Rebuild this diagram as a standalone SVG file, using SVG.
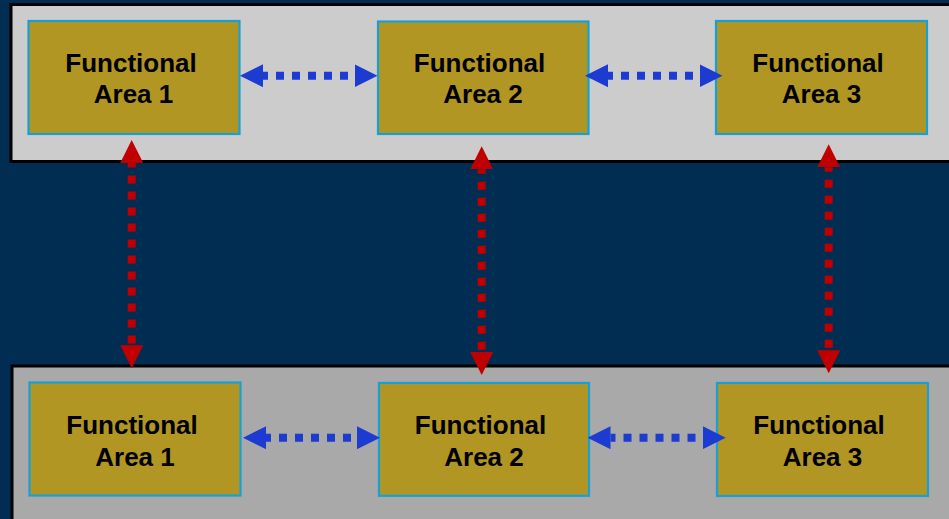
<svg xmlns="http://www.w3.org/2000/svg" width="949" height="519" viewBox="0 0 949 519">
  <style>
    .band { stroke: #000; stroke-width: 3; }
    .box { fill: #b19623; stroke: #16a0d6; stroke-width: 2.2; }
    .label { font-family: "Liberation Sans", Arial, sans-serif; font-weight: bold; font-size: 26px; fill: #000; text-anchor: middle; }
    .h-link { stroke: #1c3bd0; stroke-width: 8; stroke-dasharray: 8 8; stroke-dashoffset: 3; fill: none; marker-start: url(#headBlue); marker-end: url(#headBlue); }
    .v-link { stroke: #c00000; stroke-width: 8; stroke-dasharray: 8 8; stroke-dashoffset: 3.5; fill: none; marker-start: url(#headRed); marker-end: url(#headRed); }
  </style>
  <defs>
    <marker id="headBlue" viewBox="0 0 23 23" markerWidth="23" markerHeight="23" markerUnits="userSpaceOnUse" refX="0" refY="11.5" orient="auto-start-reverse">
      <path d="M0,0 L23,11.5 L0,23 Z" fill="#1c3bd0"/>
    </marker>
    <marker id="headRed" viewBox="0 0 23 23" markerWidth="23" markerHeight="23" markerUnits="userSpaceOnUse" refX="0" refY="11.5" orient="auto-start-reverse">
      <path d="M0,0 L23,11.5 L0,23 Z" fill="#c00000"/>
    </marker>
  </defs>

  <!-- background -->
  <rect x="0" y="0" width="949" height="519" fill="#022d53"/>

  <!-- layer bands -->
  <rect id="band-top" class="band" x="11" y="4.5" width="945" height="157" fill="#cccccc"/>
  <rect id="band-bottom" class="band" x="12" y="366" width="945" height="160" fill="#a9a9a9"/>

  <!-- upper layer -->
  <g id="top-area-1">
    <rect class="box" x="28.5" y="21" width="211" height="113"/>
    <text class="label" x="131" y="71.7">Functional</text>
    <text class="label" x="133.5" y="103.2">Area 1</text>
  </g>
  <g id="top-area-2">
    <rect class="box" x="378" y="21.5" width="210.5" height="112.5"/>
    <text class="label" x="479.5" y="71.7">Functional</text>
    <text class="label" x="483" y="103.2">Area 2</text>
  </g>
  <g id="top-area-3">
    <rect class="box" x="716" y="21" width="211" height="113"/>
    <text class="label" x="818" y="71.7">Functional</text>
    <text class="label" x="821.5" y="103.2">Area 3</text>
  </g>

  <!-- lower layer -->
  <g id="bottom-area-1">
    <rect class="box" x="29.5" y="382.5" width="211" height="113"/>
    <text class="label" x="132" y="434">Functional</text>
    <text class="label" x="135" y="465.5">Area 1</text>
  </g>
  <g id="bottom-area-2">
    <rect class="box" x="379" y="383" width="210" height="112.8"/>
    <text class="label" x="480.5" y="434">Functional</text>
    <text class="label" x="484" y="465.5">Area 2</text>
  </g>
  <g id="bottom-area-3">
    <rect class="box" x="717" y="383" width="211" height="113"/>
    <text class="label" x="819" y="434">Functional</text>
    <text class="label" x="822.5" y="465.5">Area 3</text>
  </g>

  <!-- connectors -->
  <g id="connectors">
    <line class="h-link" x1="263" y1="75.7" x2="354.5" y2="75.7"/>
    <line class="h-link" x1="608" y1="75.7" x2="699.5" y2="75.7"/>
    <line class="h-link" x1="266" y1="437.7" x2="357" y2="437.7"/>
    <line class="h-link" x1="610.5" y1="437.7" x2="702.7" y2="437.7"/>
    <line class="v-link" x1="131.7" y1="163" x2="131.7" y2="345.3"/>
    <line class="v-link" x1="481.7" y1="169.3" x2="481.7" y2="352"/>
    <line class="v-link" x1="828.7" y1="167.3" x2="828.7" y2="350.3"/>
  </g>
</svg>
